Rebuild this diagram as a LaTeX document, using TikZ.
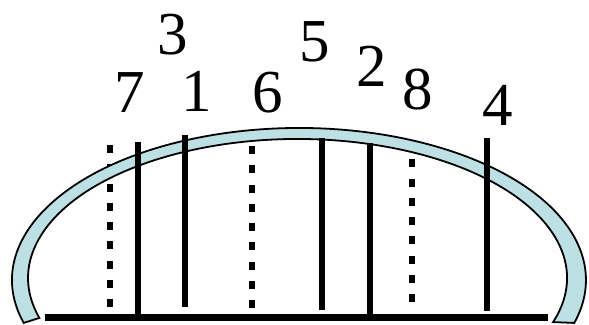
\documentclass[tikz,border=0pt]{standalone}
\usepackage{fontspec}
\setmainfont{Liberation Serif}
\usepackage{xcolor}
\definecolor{ArchBlue}{HTML}{BCE0E3}
\definecolor{ArchInk}{HTML}{000000}
\tikzset{
  digit/.style={font=\fontsize{61}{61}\selectfont,inner sep=0pt,anchor=base},
  rod/.style={ArchInk,line width=6.5pt,line cap=butt},
  dotrod/.style={rod,dash pattern=on 8pt off 11.3pt}
}
\begin{document}
\begin{tikzpicture}[x=1pt,y=1pt]
  \useasboundingbox (0,0) rectangle (589,324);
  % dotted rods sit behind the arch
  \foreach \x/\top in {110/179,252/178,412/184}
    \draw[dotrod] (\x,\top)--(\x,6);
  % the arch band
  \draw[ArchInk,line width=1.8pt,fill=ArchBlue]
    ([shift={(299,44)}]196.4:287 and 152)
      arc[start angle=196.4,end angle=-16.4,x radius=287,y radius=152]
    -- ([shift={(297.5,46)}]-18.5:269.5 and 139)
      arc[start angle=-18.5,end angle=196.7,x radius=269.5,y radius=139]
    -- cycle;
  % solid rods in front
  \foreach \x/\top/\bot in {138/182/6,185/189/17,322/186/14,370/181/6,487/186/13}
    \draw[rod] (\x,\top)--(\x,\bot);
  \draw[ArchInk,line width=7pt] (45,6.5)--(548,6.5);
  \foreach \n/\x/\y in {7/130/211,3/173/269,1/197/212,6/268/211,5/315/262,2/372/237,8/418/214,4/498/198}
    \node[digit] (n\n) at (\x,\y) {\n};
\end{tikzpicture}
\end{document}
